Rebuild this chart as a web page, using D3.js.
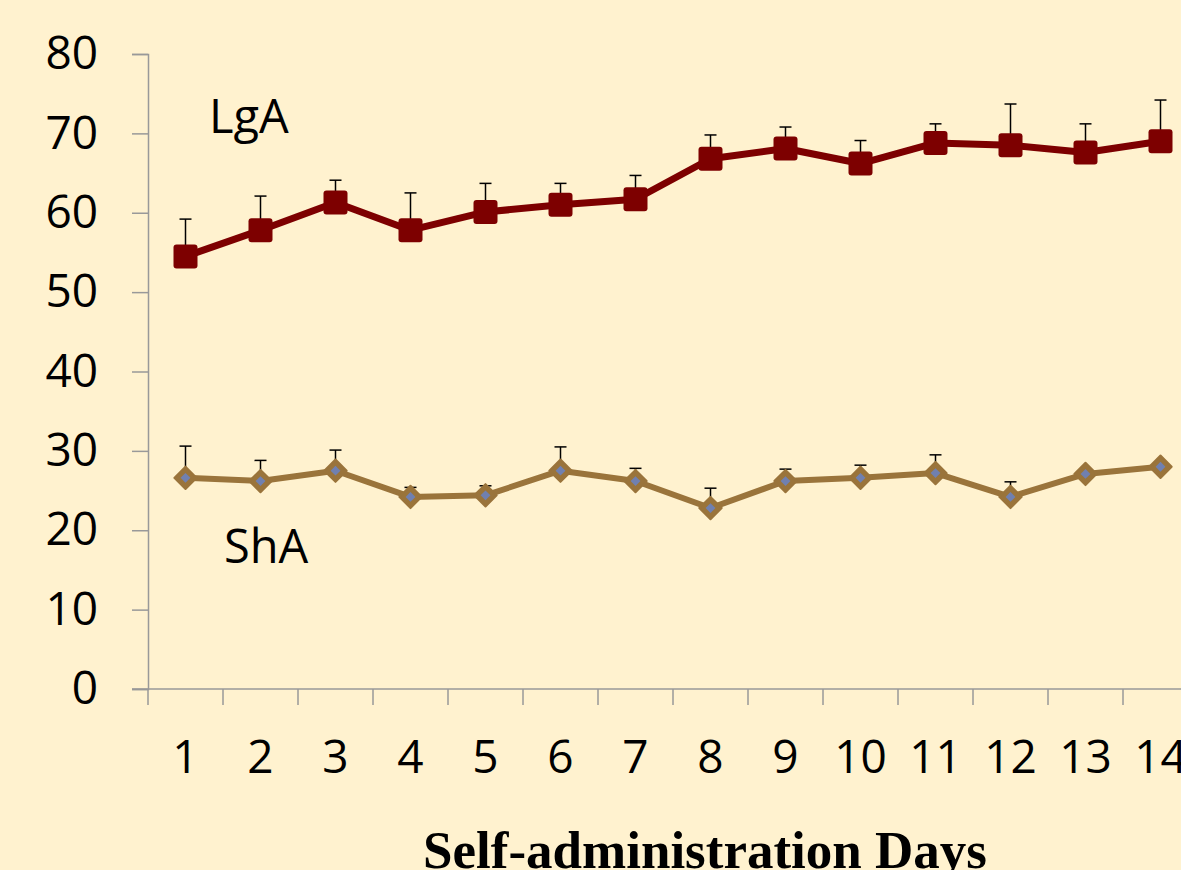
<!DOCTYPE html>
<html>
<head>
<meta charset="utf-8">
<script src="https://cdn.jsdelivr.net/npm/d3@7"></script>
<style>
  body { margin: 0; background: #fff2cf; overflow: hidden; }
  svg { display: block; }
</style>
</head>
<body>
<svg id="chart" width="1181" height="870"></svg>
<script>
// data
let days = [1, 2, 3, 4, 5, 6, 7, 8, 9, 10, 11, 12, 13, 14];
let lgaMean = [54.5, 57.8, 61.3, 57.8, 60.1, 61.0, 61.7, 66.8, 68.1, 66.2, 68.8, 68.5, 67.6, 69.0];
let lgaErr = [4.7, 4.3, 2.8, 4.7, 3.6, 2.7, 3.0, 3.0, 2.7, 2.9, 2.4, 5.2, 3.6, 5.2];
let shaMean = [26.6, 26.2, 27.5, 24.2, 24.4, 27.5, 26.2, 22.8, 26.2, 26.6, 27.2, 24.2, 27.1, 28.0];
let shaErr = [4.0, 2.6, 2.6, 1.2, 1.2, 3.0, 1.6, 2.5, 1.5, 1.6, 2.3, 1.9, 0, 0];
let yTicks = [0, 10, 20, 30, 40, 50, 60, 70, 80];

let svg = d3.select("#chart");

svg.append("rect")
    .attr("width", 1181)
    .attr("height", 870)
    .attr("fill", "#fff2cf");

let x = d3.scaleBand()
    .domain(days)
    .range([148, 1198]);

let y = d3.scaleLinear()
    .domain([0, 80])
    .range([689, 54]);

let cx = d => x(d) + x.bandwidth() / 2;

// y axis
let yAxis = svg.append("g")
    .attr("transform", "translate(148,0)")
    .call(d3.axisLeft(y).tickValues(yTicks).tickSize(16).tickPadding(34));
yAxis.select(".domain").attr("stroke", "#999").attr("stroke-width", 1.5);
yAxis.selectAll(".tick line").attr("stroke", "#999").attr("stroke-width", 1.5);
yAxis.selectAll(".tick text")
    .attr("fill", "#000")
    .style("font-family", "Open Sans")
    .style("font-size", "46px");

// x axis line and boundary ticks
let xAxisG = svg.append("g");
xAxisG.append("line")
    .attr("x1", 132).attr("x2", 1198)
    .attr("y1", y(0)).attr("y2", y(0))
    .attr("stroke", "#999").attr("stroke-width", 1.5);
xAxisG.selectAll(".xt")
    .data(days)
    .join("line")
    .attr("x1", d => x(d)).attr("x2", d => x(d))
    .attr("y1", y(0)).attr("y2", y(0) + 16)
    .attr("stroke", "#999").attr("stroke-width", 1.5);
xAxisG.selectAll(".xl")
    .data(days)
    .join("text")
    .attr("x", d => cx(d))
    .attr("y", 773)
    .attr("text-anchor", "middle")
    .style("font-family", "Open Sans")
    .style("font-size", "46px")
    .text(d => d);

// error bars (upper only)
function errorBars(mean, err) {
    let g = svg.append("g").attr("stroke", "#000").attr("stroke-width", 1.5);
    let pts = days.map((d, i) => ({ d: d, m: mean[i], e: err[i] })).filter(p => p.e > 0);
    g.selectAll(".v").data(pts).join("line")
        .attr("x1", p => cx(p.d)).attr("x2", p => cx(p.d))
        .attr("y1", p => y(p.m)).attr("y2", p => y(p.m + p.e));
    g.selectAll(".c").data(pts).join("line")
        .attr("x1", p => cx(p.d) - 6).attr("x2", p => cx(p.d) + 6)
        .attr("y1", p => y(p.m + p.e)).attr("y2", p => y(p.m + p.e));
}
errorBars(lgaMean, lgaErr);
errorBars(shaMean, shaErr);

let line = d3.line().x(p => cx(p[0])).y(p => y(p[1]));

// ShA series
svg.append("path")
    .datum(days.map((d, i) => [d, shaMean[i]]))
    .attr("d", line)
    .attr("fill", "none")
    .attr("stroke", "#9a743b")
    .attr("stroke-width", 6)
    .attr("stroke-linejoin", "round");

svg.selectAll(".shaOuter")
    .data(days)
    .join("path")
    .attr("d", d3.symbol(d3.symbolSquare, 250))
    .attr("transform", (d, i) => `translate(${cx(d)},${y(shaMean[i])}) rotate(45)`)
    .attr("fill", "#9a743b")
    .attr("stroke", "#9a743b")
    .attr("stroke-width", 2)
    .attr("stroke-linejoin", "round");

svg.selectAll(".shaInner")
    .data(days)
    .join("path")
    .attr("d", d3.symbol(d3.symbolSquare, 48))
    .attr("transform", (d, i) => `translate(${cx(d)},${y(shaMean[i])}) rotate(45)`)
    .attr("fill", "#7080b0");

// LgA series
svg.append("path")
    .datum(days.map((d, i) => [d, lgaMean[i]]))
    .attr("d", line)
    .attr("fill", "none")
    .attr("stroke", "#7d0000")
    .attr("stroke-width", 7)
    .attr("stroke-linejoin", "round");

svg.selectAll(".lgaMark")
    .data(days)
    .join("rect")
    .attr("x", d => cx(d) - 12)
    .attr("y", (d, i) => y(lgaMean[i]) - 12)
    .attr("width", 24)
    .attr("height", 24)
    .attr("rx", 3)
    .attr("fill", "#7d0000");

// series labels
svg.append("text")
    .attr("x", 209).attr("y", 133)
    .style("font-family", "Open Sans")
    .style("font-size", "47px")
    .text("LgA");
svg.append("text")
    .attr("x", 224).attr("y", 563)
    .style("font-family", "Open Sans")
    .style("font-size", "47px")
    .text("ShA");

// axis title
svg.append("text")
    .attr("x", 705).attr("y", 868)
    .attr("text-anchor", "middle")
    .style("font-family", "Liberation Serif")
    .style("font-weight", "bold")
    .style("font-size", "53px")
    .text("Self-administration Days");
</script>
</body>
</html>
